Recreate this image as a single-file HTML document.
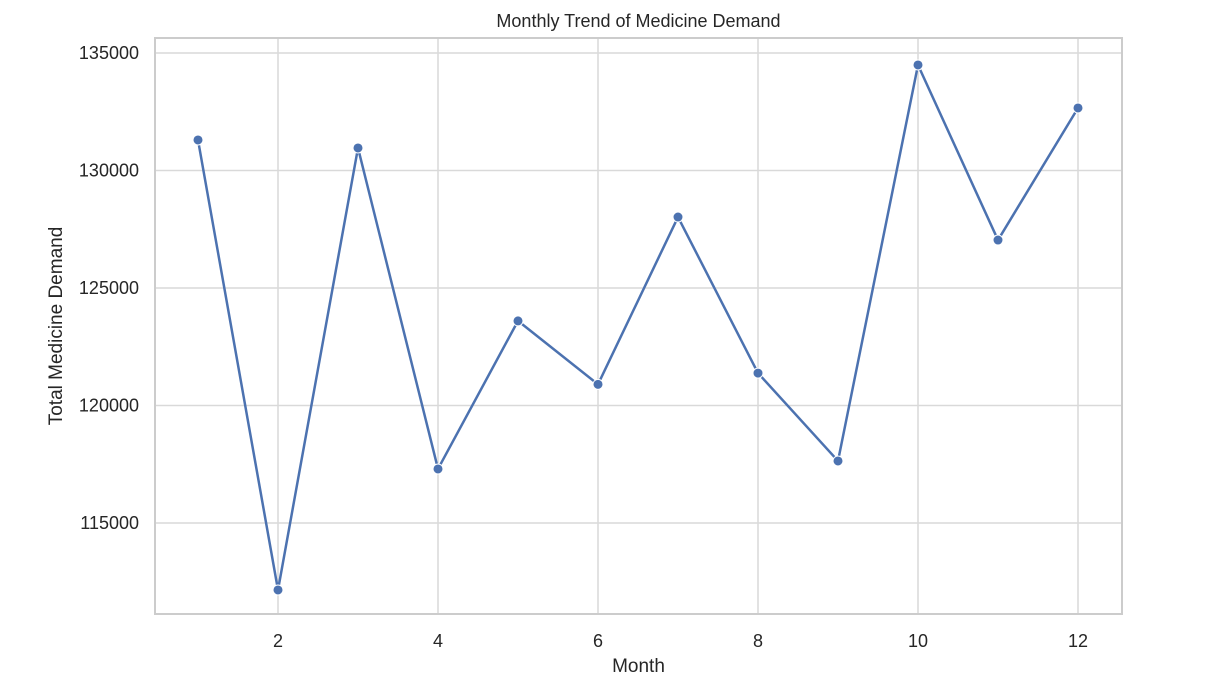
<!DOCTYPE html>
<html><head><meta charset="utf-8"><style>
body{margin:0;background:#fff;font-family:"Liberation Sans",sans-serif}
</style></head><body>
<svg id="chart" width="1220" height="679" xmlns="http://www.w3.org/2000/svg"></svg>
<script>
const months=[1,2,3,4,5,6,7,8,9,10,11,12];
const demand=[131300,112150,130960,117300,123600,120900,128020,121380,117640,134490,127040,132660];
const xTicks=[2,4,6,8,10,12];
const yTicks=[115000,120000,125000,130000,135000];
const L=155,R=1122,T=38,B=614;
const x=v=>198+(v-1)*80;
const y=v=>53+(135000-v)/5000*117.5;
const svg=document.getElementById('chart');
const NS='http://www.w3.org/2000/svg';
function mk(tag,attrs,parent){const e=document.createElementNS(NS,tag);for(const k in attrs)e.setAttribute(k,attrs[k]);(parent||svg).appendChild(e);return e;}
const grid=mk('g',{});


xTicks.forEach(t=>{
  mk('line',{x1:x(t),x2:x(t),y1:T,y2:B,stroke:'#d9d9d9','stroke-width':1.5},grid);
  const tx=mk('text',{x:x(t),y:647,'text-anchor':'middle','font-size':18,fill:'#262626'});
  tx.textContent=t;
  
  
});
yTicks.forEach(t=>{
  mk('line',{x1:L,x2:R,y1:y(t),y2:y(t),stroke:'#d9d9d9','stroke-width':1.5},grid);
  const tx=mk('text',{x:139,y:y(t)+6,'text-anchor':'end','font-size':18,fill:'#262626'});
  tx.textContent=t;
  
  
});
const frame=mk('rect',{x:L,y:T,width:R-L,height:B-T,fill:'none',stroke:'#cccccc','stroke-width':2});


const line=mk('polyline',{points:months.map((m,i)=>x(m)+','+y(demand[i])).join(' '),fill:'none',stroke:'#4c72b0','stroke-width':2.5,'stroke-linejoin':'round'});


months.forEach((m,i)=>{
  const c=mk('circle',{cx:x(m),cy:y(demand[i]),r:5,fill:'#4c72b0',stroke:'#fff','stroke-width':1});
  
  
});
const title=mk('text',{x:(L+R)/2,y:27,'text-anchor':'middle','font-size':18,fill:'#262626'});
title.textContent='Monthly Trend of Medicine Demand';


const xl=mk('text',{x:(L+R)/2,y:672,'text-anchor':'middle','font-size':19,fill:'#262626'});
xl.textContent='Month';


const yl=mk('text',{x:0,y:0,'text-anchor':'middle','font-size':19,fill:'#262626',transform:'translate(62,'+((T+B)/2)+') rotate(-90)'});
yl.textContent='Total Medicine Demand';


</script>
</body></html>
